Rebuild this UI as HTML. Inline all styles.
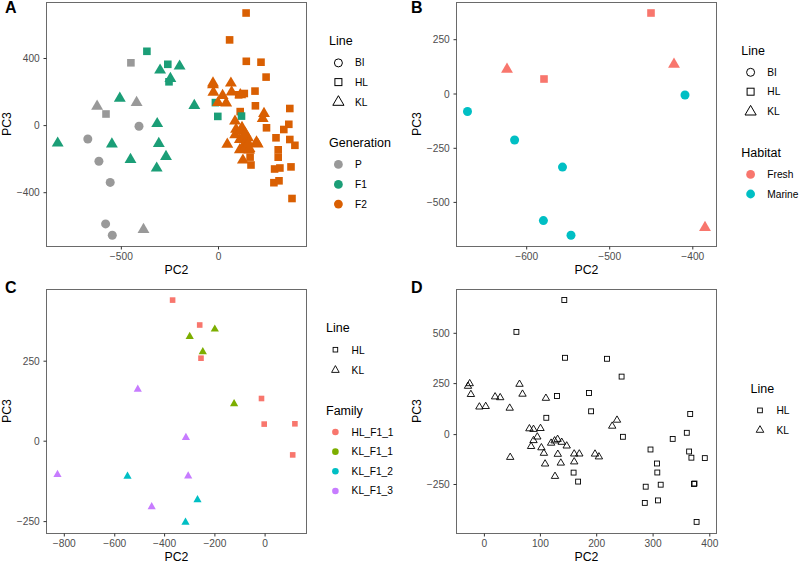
<!DOCTYPE html><html><head><meta charset="utf-8"><style>html,body{margin:0;padding:0;background:#fff;overflow:hidden;}svg{display:block;}text{font-family:"Liberation Sans", sans-serif;}</style></head><body>
<svg width="800" height="563" viewBox="0 0 800 563">
<rect width="800" height="563" fill="#fff"/>
<circle cx="139.00" cy="126.30" r="4.50" fill="#999999"/>
<circle cx="87.80" cy="139.00" r="4.50" fill="#999999"/>
<circle cx="98.90" cy="161.30" r="4.50" fill="#999999"/>
<circle cx="110.20" cy="182.40" r="4.50" fill="#999999"/>
<circle cx="105.60" cy="223.90" r="4.50" fill="#999999"/>
<circle cx="112.30" cy="235.30" r="4.50" fill="#999999"/>
<path d="M97.10 99.60L103.05 109.80L91.15 109.80Z" fill="#999999"/>
<path d="M136.60 95.80L142.55 106.00L130.65 106.00Z" fill="#999999"/>
<path d="M143.50 222.70L149.45 232.90L137.55 232.90Z" fill="#999999"/>
<rect x="102.20" y="110.20" width="7.60" height="7.60" fill="#999999"/>
<rect x="127.10" y="59.00" width="7.60" height="7.60" fill="#999999"/>
<rect x="236.40" y="107.80" width="7.60" height="7.60" fill="#D95F02"/>
<rect x="143.10" y="47.50" width="7.60" height="7.60" fill="#1B9E77"/>
<rect x="164.00" y="60.50" width="7.60" height="7.60" fill="#1B9E77"/>
<rect x="165.20" y="78.00" width="7.60" height="7.60" fill="#1B9E77"/>
<rect x="211.60" y="98.80" width="7.60" height="7.60" fill="#1B9E77"/>
<rect x="214.00" y="112.60" width="7.60" height="7.60" fill="#1B9E77"/>
<rect x="237.70" y="112.30" width="7.60" height="7.60" fill="#1B9E77"/>
<path d="M119.80 91.60L125.75 101.80L113.85 101.80Z" fill="#1B9E77"/>
<path d="M160.10 63.40L166.05 73.60L154.15 73.60Z" fill="#1B9E77"/>
<path d="M179.60 59.40L185.55 69.60L173.65 69.60Z" fill="#1B9E77"/>
<path d="M170.40 71.70L176.35 81.90L164.45 81.90Z" fill="#1B9E77"/>
<path d="M194.30 98.80L200.25 109.00L188.35 109.00Z" fill="#1B9E77"/>
<path d="M157.20 116.90L163.15 127.10L151.25 127.10Z" fill="#1B9E77"/>
<path d="M57.70 136.40L63.65 146.60L51.75 146.60Z" fill="#1B9E77"/>
<path d="M111.90 137.30L117.85 147.50L105.95 147.50Z" fill="#1B9E77"/>
<path d="M158.80 136.80L164.75 147.00L152.85 147.00Z" fill="#1B9E77"/>
<path d="M166.00 149.70L171.95 159.90L160.05 159.90Z" fill="#1B9E77"/>
<path d="M130.50 152.80L136.45 163.00L124.55 163.00Z" fill="#1B9E77"/>
<path d="M156.70 161.40L162.65 171.60L150.75 171.60Z" fill="#1B9E77"/>
<rect x="225.80" y="36.10" width="7.60" height="7.60" fill="#D95F02"/>
<rect x="242.30" y="9.20" width="7.60" height="7.60" fill="#D95F02"/>
<rect x="242.50" y="57.50" width="7.60" height="7.60" fill="#D95F02"/>
<rect x="257.20" y="58.40" width="7.60" height="7.60" fill="#D95F02"/>
<rect x="262.30" y="73.30" width="7.60" height="7.60" fill="#D95F02"/>
<rect x="251.20" y="87.30" width="7.60" height="7.60" fill="#D95F02"/>
<rect x="240.50" y="89.70" width="7.60" height="7.60" fill="#D95F02"/>
<rect x="234.90" y="91.00" width="7.60" height="7.60" fill="#D95F02"/>
<rect x="251.60" y="102.00" width="7.60" height="7.60" fill="#D95F02"/>
<rect x="286.00" y="104.70" width="7.60" height="7.60" fill="#D95F02"/>
<rect x="262.70" y="124.00" width="7.60" height="7.60" fill="#D95F02"/>
<rect x="285.00" y="120.50" width="7.60" height="7.60" fill="#D95F02"/>
<rect x="280.00" y="125.70" width="7.60" height="7.60" fill="#D95F02"/>
<rect x="272.20" y="134.00" width="7.60" height="7.60" fill="#D95F02"/>
<rect x="286.00" y="135.70" width="7.60" height="7.60" fill="#D95F02"/>
<rect x="291.10" y="141.50" width="7.60" height="7.60" fill="#D95F02"/>
<rect x="274.40" y="146.00" width="7.60" height="7.60" fill="#D95F02"/>
<rect x="274.40" y="153.40" width="7.60" height="7.60" fill="#D95F02"/>
<rect x="287.20" y="163.10" width="7.60" height="7.60" fill="#D95F02"/>
<rect x="270.80" y="165.20" width="7.60" height="7.60" fill="#D95F02"/>
<rect x="276.10" y="164.20" width="7.60" height="7.60" fill="#D95F02"/>
<rect x="270.10" y="178.90" width="7.60" height="7.60" fill="#D95F02"/>
<rect x="275.20" y="177.00" width="7.60" height="7.60" fill="#D95F02"/>
<rect x="288.20" y="194.70" width="7.60" height="7.60" fill="#D95F02"/>
<path d="M213.00 76.20L218.95 86.40L207.05 86.40Z" fill="#D95F02"/>
<path d="M213.00 78.10L218.95 88.30L207.05 88.30Z" fill="#D95F02"/>
<path d="M213.40 85.60L219.35 95.80L207.45 95.80Z" fill="#D95F02"/>
<path d="M230.90 76.40L236.85 86.60L224.95 86.60Z" fill="#D95F02"/>
<path d="M231.60 85.20L237.55 95.40L225.65 95.40Z" fill="#D95F02"/>
<path d="M222.60 88.80L228.55 99.00L216.65 99.00Z" fill="#D95F02"/>
<path d="M218.00 95.90L223.95 106.10L212.05 106.10Z" fill="#D95F02"/>
<path d="M226.20 96.30L232.15 106.50L220.25 106.50Z" fill="#D95F02"/>
<path d="M240.30 88.00L246.25 98.20L234.35 98.20Z" fill="#D95F02"/>
<path d="M264.00 106.70L269.95 116.90L258.05 116.90Z" fill="#D95F02"/>
<path d="M262.70 111.80L268.65 122.00L256.75 122.00Z" fill="#D95F02"/>
<path d="M235.00 114.40L240.95 124.60L229.05 124.60Z" fill="#D95F02"/>
<path d="M236.05 122.50L242.00 132.70L230.10 132.70Z" fill="#D95F02"/>
<path d="M235.15 128.10L241.10 138.30L229.20 138.30Z" fill="#D95F02"/>
<path d="M239.85 132.80L245.80 143.00L233.90 143.00Z" fill="#D95F02"/>
<path d="M239.85 143.00L245.80 153.20L233.90 153.20Z" fill="#D95F02"/>
<path d="M249.20 143.20L255.15 153.40L243.25 153.40Z" fill="#D95F02"/>
<path d="M248.00 131.10L253.95 141.30L242.05 141.30Z" fill="#D95F02"/>
<path d="M242.00 120.80L247.95 131.00L236.05 131.00Z" fill="#D95F02"/>
<path d="M240.50 124.30L246.45 134.50L234.55 134.50Z" fill="#D95F02"/>
<path d="M244.00 130.80L249.95 141.00L238.05 141.00Z" fill="#D95F02"/>
<path d="M244.50 137.30L250.45 147.50L238.55 147.50Z" fill="#D95F02"/>
<path d="M244.50 141.80L250.45 152.00L238.55 152.00Z" fill="#D95F02"/>
<path d="M227.30 137.50L233.25 147.70L221.35 147.70Z" fill="#D95F02"/>
<path d="M256.50 135.25L262.45 145.45L250.55 145.45Z" fill="#D95F02"/>
<path d="M257.75 137.40L263.70 147.60L251.80 147.60Z" fill="#D95F02"/>
<path d="M249.50 141.80L255.45 152.00L243.55 152.00Z" fill="#D95F02"/>
<path d="M248.50 136.80L254.45 147.00L242.55 147.00Z" fill="#D95F02"/>
<path d="M245.30 126.80L251.25 137.00L239.35 137.00Z" fill="#D95F02"/>
<path d="M242.90 153.40L248.85 163.60L236.95 163.60Z" fill="#D95F02"/>
<rect x="246.30" y="153.30" width="7.60" height="7.60" fill="#D95F02"/>
<rect x="247.20" y="161.20" width="7.60" height="7.60" fill="#D95F02"/>
<rect x="46.50" y="2.50" width="260.00" height="244.00" fill="none" stroke="#6a6a6a" stroke-width="1"/>
<line x1="43.50" y1="58.50" x2="46.50" y2="58.50" stroke="#333333" stroke-width="1"/>
<text x="39.75" y="62.10" font-size="10.2" fill="#4D4D4D" text-anchor="end" font-weight="normal" >400</text>
<line x1="43.50" y1="125.60" x2="46.50" y2="125.60" stroke="#333333" stroke-width="1"/>
<text x="39.75" y="129.20" font-size="10.2" fill="#4D4D4D" text-anchor="end" font-weight="normal" >0</text>
<line x1="43.50" y1="192.70" x2="46.50" y2="192.70" stroke="#333333" stroke-width="1"/>
<text x="39.75" y="196.30" font-size="10.2" fill="#4D4D4D" text-anchor="end" font-weight="normal" >−400</text>
<line x1="121.35" y1="246.50" x2="121.35" y2="249.50" stroke="#333333" stroke-width="1"/>
<text x="121.35" y="259.80" font-size="10.2" fill="#4D4D4D" text-anchor="middle" font-weight="normal" >−500</text>
<line x1="218.50" y1="246.50" x2="218.50" y2="249.50" stroke="#333333" stroke-width="1"/>
<text x="218.50" y="259.80" font-size="10.2" fill="#4D4D4D" text-anchor="middle" font-weight="normal" >0</text>
<text x="176.50" y="273.80" font-size="12.3" fill="#000" text-anchor="middle" font-weight="normal" >PC2</text>
<text x="0" y="0" font-size="12.3" fill="#000" text-anchor="middle" transform="translate(11.00 124.10) rotate(-90)">PC3</text>
<text x="5.00" y="12.60" font-size="16" fill="#000" text-anchor="start" font-weight="bold" >A</text>
<text x="329.00" y="45.30" font-size="12.5" fill="#000" text-anchor="start" font-weight="normal" >Line</text>
<circle cx="338.40" cy="62.90" r="4.00" fill="none" stroke="#000" stroke-width="1.0"/>
<text x="355.00" y="66.30" font-size="10.2" fill="#000" text-anchor="start" font-weight="normal" >BI</text>
<rect x="334.90" y="78.60" width="7.00" height="7.00" fill="none" stroke="#000" stroke-width="1.0"/>
<text x="355.00" y="86.30" font-size="10.2" fill="#000" text-anchor="start" font-weight="normal" >HL</text>
<path d="M338.40 95.70L344.00 105.30L332.80 105.30Z" fill="none" stroke="#000" stroke-width="1.0" stroke-linejoin="round"/>
<text x="355.00" y="105.50" font-size="10.2" fill="#000" text-anchor="start" font-weight="normal" >KL</text>
<text x="329.00" y="147.00" font-size="12.5" fill="#000" text-anchor="start" font-weight="normal" >Generation</text>
<circle cx="338.40" cy="164.40" r="4.40" fill="#999999"/>
<text x="355.00" y="167.90" font-size="10.2" fill="#000" text-anchor="start" font-weight="normal" >P</text>
<circle cx="338.40" cy="184.40" r="4.40" fill="#1B9E77"/>
<text x="355.00" y="187.90" font-size="10.2" fill="#000" text-anchor="start" font-weight="normal" >F1</text>
<circle cx="338.40" cy="204.10" r="4.40" fill="#D95F02"/>
<text x="355.00" y="207.60" font-size="10.2" fill="#000" text-anchor="start" font-weight="normal" >F2</text>
<rect x="647.20" y="9.20" width="7.60" height="7.60" fill="#F8766D"/>
<rect x="540.20" y="75.20" width="7.60" height="7.60" fill="#F8766D"/>
<path d="M507.00 62.60L512.95 72.80L501.05 72.80Z" fill="#F8766D"/>
<path d="M674.00 57.60L679.95 67.80L668.05 67.80Z" fill="#F8766D"/>
<path d="M705.00 220.80L710.95 231.00L699.05 231.00Z" fill="#F8766D"/>
<circle cx="467.50" cy="111.50" r="4.50" fill="#00BFC4"/>
<circle cx="514.60" cy="140.00" r="4.50" fill="#00BFC4"/>
<circle cx="562.50" cy="167.10" r="4.50" fill="#00BFC4"/>
<circle cx="543.40" cy="220.60" r="4.50" fill="#00BFC4"/>
<circle cx="571.00" cy="235.30" r="4.50" fill="#00BFC4"/>
<circle cx="685.00" cy="95.00" r="4.50" fill="#00BFC4"/>
<rect x="456.50" y="2.50" width="260.00" height="244.00" fill="none" stroke="#6a6a6a" stroke-width="1"/>
<line x1="453.50" y1="39.70" x2="456.50" y2="39.70" stroke="#333333" stroke-width="1"/>
<text x="449.75" y="43.30" font-size="10.2" fill="#4D4D4D" text-anchor="end" font-weight="normal" >250</text>
<line x1="453.50" y1="94.00" x2="456.50" y2="94.00" stroke="#333333" stroke-width="1"/>
<text x="449.75" y="97.60" font-size="10.2" fill="#4D4D4D" text-anchor="end" font-weight="normal" >0</text>
<line x1="453.50" y1="148.30" x2="456.50" y2="148.30" stroke="#333333" stroke-width="1"/>
<text x="449.75" y="151.90" font-size="10.2" fill="#4D4D4D" text-anchor="end" font-weight="normal" >−250</text>
<line x1="453.50" y1="202.40" x2="456.50" y2="202.40" stroke="#333333" stroke-width="1"/>
<text x="449.75" y="206.00" font-size="10.2" fill="#4D4D4D" text-anchor="end" font-weight="normal" >−500</text>
<line x1="526.70" y1="246.50" x2="526.70" y2="249.50" stroke="#333333" stroke-width="1"/>
<text x="526.70" y="259.80" font-size="10.2" fill="#4D4D4D" text-anchor="middle" font-weight="normal" >−600</text>
<line x1="609.70" y1="246.50" x2="609.70" y2="249.50" stroke="#333333" stroke-width="1"/>
<text x="609.70" y="259.80" font-size="10.2" fill="#4D4D4D" text-anchor="middle" font-weight="normal" >−500</text>
<line x1="692.80" y1="246.50" x2="692.80" y2="249.50" stroke="#333333" stroke-width="1"/>
<text x="692.80" y="259.80" font-size="10.2" fill="#4D4D4D" text-anchor="middle" font-weight="normal" >−400</text>
<text x="586.50" y="273.80" font-size="12.3" fill="#000" text-anchor="middle" font-weight="normal" >PC2</text>
<text x="0" y="0" font-size="12.3" fill="#000" text-anchor="middle" transform="translate(421.00 124.10) rotate(-90)">PC3</text>
<text x="411.00" y="12.60" font-size="16" fill="#000" text-anchor="start" font-weight="bold" >B</text>
<text x="741.30" y="54.90" font-size="12.5" fill="#000" text-anchor="start" font-weight="normal" >Line</text>
<circle cx="750.60" cy="72.30" r="4.00" fill="none" stroke="#000" stroke-width="1.0"/>
<text x="767.30" y="75.80" font-size="10.2" fill="#000" text-anchor="start" font-weight="normal" >BI</text>
<rect x="747.10" y="88.20" width="7.00" height="7.00" fill="none" stroke="#000" stroke-width="1.0"/>
<text x="767.30" y="95.20" font-size="10.2" fill="#000" text-anchor="start" font-weight="normal" >HL</text>
<path d="M750.60 105.40L756.20 115.00L745.00 115.00Z" fill="none" stroke="#000" stroke-width="1.0" stroke-linejoin="round"/>
<text x="767.30" y="115.20" font-size="10.2" fill="#000" text-anchor="start" font-weight="normal" >KL</text>
<text x="741.30" y="156.90" font-size="12.5" fill="#000" text-anchor="start" font-weight="normal" >Habitat</text>
<circle cx="750.60" cy="174.40" r="4.40" fill="#F8766D"/>
<text x="767.30" y="177.90" font-size="10.2" fill="#000" text-anchor="start" font-weight="normal" >Fresh</text>
<circle cx="750.60" cy="194.00" r="4.40" fill="#00BFC4"/>
<text x="767.30" y="197.50" font-size="10.2" fill="#000" text-anchor="start" font-weight="normal" >Marine</text>
<rect x="169.80" y="297.30" width="5.60" height="5.60" fill="#F8766D"/>
<rect x="196.90" y="322.20" width="5.60" height="5.60" fill="#F8766D"/>
<rect x="198.20" y="355.40" width="5.60" height="5.60" fill="#F8766D"/>
<rect x="258.70" y="395.70" width="5.60" height="5.60" fill="#F8766D"/>
<rect x="261.40" y="421.30" width="5.60" height="5.60" fill="#F8766D"/>
<rect x="292.10" y="421.00" width="5.60" height="5.60" fill="#F8766D"/>
<rect x="289.90" y="452.10" width="5.60" height="5.60" fill="#F8766D"/>
<path d="M214.80 324.40L218.90 331.60L210.70 331.60Z" fill="#7CAE00"/>
<path d="M189.70 331.70L193.80 338.90L185.60 338.90Z" fill="#7CAE00"/>
<path d="M202.80 347.00L206.90 354.20L198.70 354.20Z" fill="#7CAE00"/>
<path d="M234.10 399.10L238.20 406.30L230.00 406.30Z" fill="#7CAE00"/>
<path d="M127.50 471.50L131.60 478.70L123.40 478.70Z" fill="#00BFC4"/>
<path d="M197.50 495.10L201.60 502.30L193.40 502.30Z" fill="#00BFC4"/>
<path d="M185.50 517.50L189.60 524.70L181.40 524.70Z" fill="#00BFC4"/>
<path d="M137.80 384.60L141.90 391.80L133.70 391.80Z" fill="#C77CFF"/>
<path d="M185.90 432.80L190.00 440.00L181.80 440.00Z" fill="#C77CFF"/>
<path d="M57.50 469.70L61.60 476.90L53.40 476.90Z" fill="#C77CFF"/>
<path d="M188.20 471.30L192.30 478.50L184.10 478.50Z" fill="#C77CFF"/>
<path d="M151.70 502.00L155.80 509.20L147.60 509.20Z" fill="#C77CFF"/>
<rect x="46.50" y="289.50" width="260.00" height="244.00" fill="none" stroke="#6a6a6a" stroke-width="1"/>
<line x1="43.50" y1="361.20" x2="46.50" y2="361.20" stroke="#333333" stroke-width="1"/>
<text x="39.75" y="364.80" font-size="10.2" fill="#4D4D4D" text-anchor="end" font-weight="normal" >250</text>
<line x1="43.50" y1="441.20" x2="46.50" y2="441.20" stroke="#333333" stroke-width="1"/>
<text x="39.75" y="444.80" font-size="10.2" fill="#4D4D4D" text-anchor="end" font-weight="normal" >0</text>
<line x1="43.50" y1="521.60" x2="46.50" y2="521.60" stroke="#333333" stroke-width="1"/>
<text x="39.75" y="525.20" font-size="10.2" fill="#4D4D4D" text-anchor="end" font-weight="normal" >−250</text>
<line x1="64.30" y1="533.50" x2="64.30" y2="536.50" stroke="#333333" stroke-width="1"/>
<text x="64.30" y="546.80" font-size="10.2" fill="#4D4D4D" text-anchor="middle" font-weight="normal" >−800</text>
<line x1="114.75" y1="533.50" x2="114.75" y2="536.50" stroke="#333333" stroke-width="1"/>
<text x="114.75" y="546.80" font-size="10.2" fill="#4D4D4D" text-anchor="middle" font-weight="normal" >−600</text>
<line x1="164.60" y1="533.50" x2="164.60" y2="536.50" stroke="#333333" stroke-width="1"/>
<text x="164.60" y="546.80" font-size="10.2" fill="#4D4D4D" text-anchor="middle" font-weight="normal" >−400</text>
<line x1="214.90" y1="533.50" x2="214.90" y2="536.50" stroke="#333333" stroke-width="1"/>
<text x="214.90" y="546.80" font-size="10.2" fill="#4D4D4D" text-anchor="middle" font-weight="normal" >−200</text>
<line x1="265.10" y1="533.50" x2="265.10" y2="536.50" stroke="#333333" stroke-width="1"/>
<text x="265.10" y="546.80" font-size="10.2" fill="#4D4D4D" text-anchor="middle" font-weight="normal" >0</text>
<text x="176.50" y="561.00" font-size="12.3" fill="#000" text-anchor="middle" font-weight="normal" >PC2</text>
<text x="0" y="0" font-size="12.3" fill="#000" text-anchor="middle" transform="translate(11.00 411.10) rotate(-90)">PC3</text>
<text x="5.00" y="293.00" font-size="16" fill="#000" text-anchor="start" font-weight="bold" >C</text>
<text x="326.00" y="332.40" font-size="12.5" fill="#000" text-anchor="start" font-weight="normal" >Line</text>
<rect x="333.10" y="347.40" width="4.60" height="4.60" fill="none" stroke="#000" stroke-width="0.9"/>
<text x="351.60" y="353.90" font-size="10.2" fill="#000" text-anchor="start" font-weight="normal" >HL</text>
<path d="M335.40 365.60L339.20 372.40L331.60 372.40Z" fill="none" stroke="#000" stroke-width="0.9" stroke-linejoin="round"/>
<text x="351.60" y="373.50" font-size="10.2" fill="#000" text-anchor="start" font-weight="normal" >KL</text>
<text x="326.00" y="415.00" font-size="12.5" fill="#000" text-anchor="start" font-weight="normal" >Family</text>
<circle cx="335.40" cy="432.00" r="3.30" fill="#F8766D"/>
<text x="351.60" y="435.50" font-size="10.2" fill="#000" text-anchor="start" font-weight="normal" >HL_F1_1</text>
<circle cx="335.40" cy="451.65" r="3.30" fill="#7CAE00"/>
<text x="351.60" y="455.15" font-size="10.2" fill="#000" text-anchor="start" font-weight="normal" >KL_F1_1</text>
<circle cx="335.40" cy="471.30" r="3.30" fill="#00BFC4"/>
<text x="351.60" y="474.80" font-size="10.2" fill="#000" text-anchor="start" font-weight="normal" >KL_F1_2</text>
<circle cx="335.40" cy="490.95" r="3.30" fill="#C77CFF"/>
<text x="351.60" y="494.45" font-size="10.2" fill="#000" text-anchor="start" font-weight="normal" >KL_F1_3</text>
<rect x="513.95" y="329.45" width="4.90" height="4.90" fill="none" stroke="#000" stroke-width="0.9"/>
<rect x="561.85" y="297.55" width="4.90" height="4.90" fill="none" stroke="#000" stroke-width="0.9"/>
<rect x="562.55" y="355.35" width="4.90" height="4.90" fill="none" stroke="#000" stroke-width="0.9"/>
<rect x="604.55" y="356.35" width="4.90" height="4.90" fill="none" stroke="#000" stroke-width="0.9"/>
<rect x="619.15" y="374.15" width="4.90" height="4.90" fill="none" stroke="#000" stroke-width="0.9"/>
<rect x="554.55" y="393.55" width="4.90" height="4.90" fill="none" stroke="#000" stroke-width="0.9"/>
<rect x="586.55" y="390.55" width="4.90" height="4.90" fill="none" stroke="#000" stroke-width="0.9"/>
<rect x="588.65" y="408.85" width="4.90" height="4.90" fill="none" stroke="#000" stroke-width="0.9"/>
<rect x="543.85" y="415.35" width="4.90" height="4.90" fill="none" stroke="#000" stroke-width="0.9"/>
<rect x="620.45" y="434.35" width="4.90" height="4.90" fill="none" stroke="#000" stroke-width="0.9"/>
<rect x="687.75" y="411.55" width="4.90" height="4.90" fill="none" stroke="#000" stroke-width="0.9"/>
<rect x="684.35" y="430.35" width="4.90" height="4.90" fill="none" stroke="#000" stroke-width="0.9"/>
<rect x="670.25" y="436.45" width="4.90" height="4.90" fill="none" stroke="#000" stroke-width="0.9"/>
<rect x="648.05" y="447.05" width="4.90" height="4.90" fill="none" stroke="#000" stroke-width="0.9"/>
<rect x="686.65" y="449.05" width="4.90" height="4.90" fill="none" stroke="#000" stroke-width="0.9"/>
<rect x="688.95" y="455.25" width="4.90" height="4.90" fill="none" stroke="#000" stroke-width="0.9"/>
<rect x="702.35" y="455.65" width="4.90" height="4.90" fill="none" stroke="#000" stroke-width="0.9"/>
<rect x="654.55" y="461.05" width="4.90" height="4.90" fill="none" stroke="#000" stroke-width="0.9"/>
<rect x="654.85" y="470.05" width="4.90" height="4.90" fill="none" stroke="#000" stroke-width="0.9"/>
<rect x="571.15" y="470.15" width="4.90" height="4.90" fill="none" stroke="#000" stroke-width="0.9"/>
<rect x="575.65" y="479.15" width="4.90" height="4.90" fill="none" stroke="#000" stroke-width="0.9"/>
<rect x="643.25" y="484.25" width="4.90" height="4.90" fill="none" stroke="#000" stroke-width="0.9"/>
<rect x="658.25" y="482.25" width="4.90" height="4.90" fill="none" stroke="#000" stroke-width="0.9"/>
<rect x="691.55" y="481.55" width="4.90" height="4.90" fill="none" stroke="#000" stroke-width="0.9"/>
<rect x="692.05" y="481.05" width="4.90" height="4.90" fill="none" stroke="#000" stroke-width="0.9"/>
<rect x="642.35" y="500.45" width="4.90" height="4.90" fill="none" stroke="#000" stroke-width="0.9"/>
<rect x="655.55" y="497.95" width="4.90" height="4.90" fill="none" stroke="#000" stroke-width="0.9"/>
<rect x="694.15" y="519.45" width="4.90" height="4.90" fill="none" stroke="#000" stroke-width="0.9"/>
<path d="M469.70 379.40L473.40 385.70L466.00 385.70Z" fill="none" stroke="#000" stroke-width="0.9" stroke-linejoin="round"/>
<path d="M468.00 382.00L471.70 388.30L464.30 388.30Z" fill="none" stroke="#000" stroke-width="0.9" stroke-linejoin="round"/>
<path d="M470.90 390.20L474.60 396.50L467.20 396.50Z" fill="none" stroke="#000" stroke-width="0.9" stroke-linejoin="round"/>
<path d="M495.10 392.60L498.80 398.90L491.40 398.90Z" fill="none" stroke="#000" stroke-width="0.9" stroke-linejoin="round"/>
<path d="M500.20 393.40L503.90 399.70L496.50 399.70Z" fill="none" stroke="#000" stroke-width="0.9" stroke-linejoin="round"/>
<path d="M479.40 402.70L483.10 409.00L475.70 409.00Z" fill="none" stroke="#000" stroke-width="0.9" stroke-linejoin="round"/>
<path d="M485.70 402.20L489.40 408.50L482.00 408.50Z" fill="none" stroke="#000" stroke-width="0.9" stroke-linejoin="round"/>
<path d="M509.70 403.90L513.40 410.20L506.00 410.20Z" fill="none" stroke="#000" stroke-width="0.9" stroke-linejoin="round"/>
<path d="M519.50 380.00L523.20 386.30L515.80 386.30Z" fill="none" stroke="#000" stroke-width="0.9" stroke-linejoin="round"/>
<path d="M522.50 389.90L526.20 396.20L518.80 396.20Z" fill="none" stroke="#000" stroke-width="0.9" stroke-linejoin="round"/>
<path d="M545.90 394.00L549.60 400.30L542.20 400.30Z" fill="none" stroke="#000" stroke-width="0.9" stroke-linejoin="round"/>
<path d="M529.40 424.50L533.10 430.80L525.70 430.80Z" fill="none" stroke="#000" stroke-width="0.9" stroke-linejoin="round"/>
<path d="M533.50 425.10L537.20 431.40L529.80 431.40Z" fill="none" stroke="#000" stroke-width="0.9" stroke-linejoin="round"/>
<path d="M540.50 424.20L544.20 430.50L536.80 430.50Z" fill="none" stroke="#000" stroke-width="0.9" stroke-linejoin="round"/>
<path d="M537.30 432.70L541.00 439.00L533.60 439.00Z" fill="none" stroke="#000" stroke-width="0.9" stroke-linejoin="round"/>
<path d="M533.50 436.30L537.20 442.60L529.80 442.60Z" fill="none" stroke="#000" stroke-width="0.9" stroke-linejoin="round"/>
<path d="M531.10 442.20L534.80 448.50L527.40 448.50Z" fill="none" stroke="#000" stroke-width="0.9" stroke-linejoin="round"/>
<path d="M541.40 443.50L545.10 449.80L537.70 449.80Z" fill="none" stroke="#000" stroke-width="0.9" stroke-linejoin="round"/>
<path d="M543.90 449.00L547.60 455.30L540.20 455.30Z" fill="none" stroke="#000" stroke-width="0.9" stroke-linejoin="round"/>
<path d="M551.10 438.90L554.80 445.20L547.40 445.20Z" fill="none" stroke="#000" stroke-width="0.9" stroke-linejoin="round"/>
<path d="M554.60 436.60L558.30 442.90L550.90 442.90Z" fill="none" stroke="#000" stroke-width="0.9" stroke-linejoin="round"/>
<path d="M557.60 435.10L561.30 441.40L553.90 441.40Z" fill="none" stroke="#000" stroke-width="0.9" stroke-linejoin="round"/>
<path d="M561.70 438.00L565.40 444.30L558.00 444.30Z" fill="none" stroke="#000" stroke-width="0.9" stroke-linejoin="round"/>
<path d="M566.70 441.70L570.40 448.00L563.00 448.00Z" fill="none" stroke="#000" stroke-width="0.9" stroke-linejoin="round"/>
<path d="M557.80 450.00L561.50 456.30L554.10 456.30Z" fill="none" stroke="#000" stroke-width="0.9" stroke-linejoin="round"/>
<path d="M510.20 453.10L513.90 459.40L506.50 459.40Z" fill="none" stroke="#000" stroke-width="0.9" stroke-linejoin="round"/>
<path d="M545.10 459.70L548.80 466.00L541.40 466.00Z" fill="none" stroke="#000" stroke-width="0.9" stroke-linejoin="round"/>
<path d="M560.80 458.80L564.50 465.10L557.10 465.10Z" fill="none" stroke="#000" stroke-width="0.9" stroke-linejoin="round"/>
<path d="M574.20 449.70L577.90 456.00L570.50 456.00Z" fill="none" stroke="#000" stroke-width="0.9" stroke-linejoin="round"/>
<path d="M579.30 449.70L583.00 456.00L575.60 456.00Z" fill="none" stroke="#000" stroke-width="0.9" stroke-linejoin="round"/>
<path d="M574.20 457.60L577.90 463.90L570.50 463.90Z" fill="none" stroke="#000" stroke-width="0.9" stroke-linejoin="round"/>
<path d="M555.00 472.10L558.70 478.40L551.30 478.40Z" fill="none" stroke="#000" stroke-width="0.9" stroke-linejoin="round"/>
<path d="M617.00 415.90L620.70 422.20L613.30 422.20Z" fill="none" stroke="#000" stroke-width="0.9" stroke-linejoin="round"/>
<path d="M612.20 421.90L615.90 428.20L608.50 428.20Z" fill="none" stroke="#000" stroke-width="0.9" stroke-linejoin="round"/>
<path d="M595.00 449.80L598.70 456.10L591.30 456.10Z" fill="none" stroke="#000" stroke-width="0.9" stroke-linejoin="round"/>
<path d="M598.90 452.60L602.60 458.90L595.20 458.90Z" fill="none" stroke="#000" stroke-width="0.9" stroke-linejoin="round"/>
<rect x="456.50" y="289.50" width="260.00" height="244.00" fill="none" stroke="#6a6a6a" stroke-width="1"/>
<line x1="453.50" y1="333.30" x2="456.50" y2="333.30" stroke="#333333" stroke-width="1"/>
<text x="449.75" y="336.90" font-size="10.2" fill="#4D4D4D" text-anchor="end" font-weight="normal" >500</text>
<line x1="453.50" y1="383.60" x2="456.50" y2="383.60" stroke="#333333" stroke-width="1"/>
<text x="449.75" y="387.20" font-size="10.2" fill="#4D4D4D" text-anchor="end" font-weight="normal" >250</text>
<line x1="453.50" y1="434.60" x2="456.50" y2="434.60" stroke="#333333" stroke-width="1"/>
<text x="449.75" y="438.20" font-size="10.2" fill="#4D4D4D" text-anchor="end" font-weight="normal" >0</text>
<line x1="453.50" y1="484.50" x2="456.50" y2="484.50" stroke="#333333" stroke-width="1"/>
<text x="449.75" y="488.10" font-size="10.2" fill="#4D4D4D" text-anchor="end" font-weight="normal" >−250</text>
<line x1="484.40" y1="533.50" x2="484.40" y2="536.50" stroke="#333333" stroke-width="1"/>
<text x="484.40" y="546.80" font-size="10.2" fill="#4D4D4D" text-anchor="middle" font-weight="normal" >0</text>
<line x1="540.40" y1="533.50" x2="540.40" y2="536.50" stroke="#333333" stroke-width="1"/>
<text x="540.40" y="546.80" font-size="10.2" fill="#4D4D4D" text-anchor="middle" font-weight="normal" >100</text>
<line x1="596.70" y1="533.50" x2="596.70" y2="536.50" stroke="#333333" stroke-width="1"/>
<text x="596.70" y="546.80" font-size="10.2" fill="#4D4D4D" text-anchor="middle" font-weight="normal" >200</text>
<line x1="653.10" y1="533.50" x2="653.10" y2="536.50" stroke="#333333" stroke-width="1"/>
<text x="653.10" y="546.80" font-size="10.2" fill="#4D4D4D" text-anchor="middle" font-weight="normal" >300</text>
<line x1="709.80" y1="533.50" x2="709.80" y2="536.50" stroke="#333333" stroke-width="1"/>
<text x="709.80" y="546.80" font-size="10.2" fill="#4D4D4D" text-anchor="middle" font-weight="normal" >400</text>
<text x="586.50" y="561.00" font-size="12.3" fill="#000" text-anchor="middle" font-weight="normal" >PC2</text>
<text x="0" y="0" font-size="12.3" fill="#000" text-anchor="middle" transform="translate(421.00 411.10) rotate(-90)">PC3</text>
<text x="411.00" y="293.00" font-size="16" fill="#000" text-anchor="start" font-weight="bold" >D</text>
<text x="750.50" y="393.00" font-size="12.5" fill="#000" text-anchor="start" font-weight="normal" >Line</text>
<rect x="757.65" y="408.05" width="4.70" height="4.70" fill="none" stroke="#000" stroke-width="0.9"/>
<text x="776.50" y="414.30" font-size="10.2" fill="#000" text-anchor="start" font-weight="normal" >HL</text>
<path d="M760.00 425.70L763.80 432.30L756.20 432.30Z" fill="none" stroke="#000" stroke-width="0.9" stroke-linejoin="round"/>
<text x="776.50" y="433.90" font-size="10.2" fill="#000" text-anchor="start" font-weight="normal" >KL</text>
</svg></body></html>
